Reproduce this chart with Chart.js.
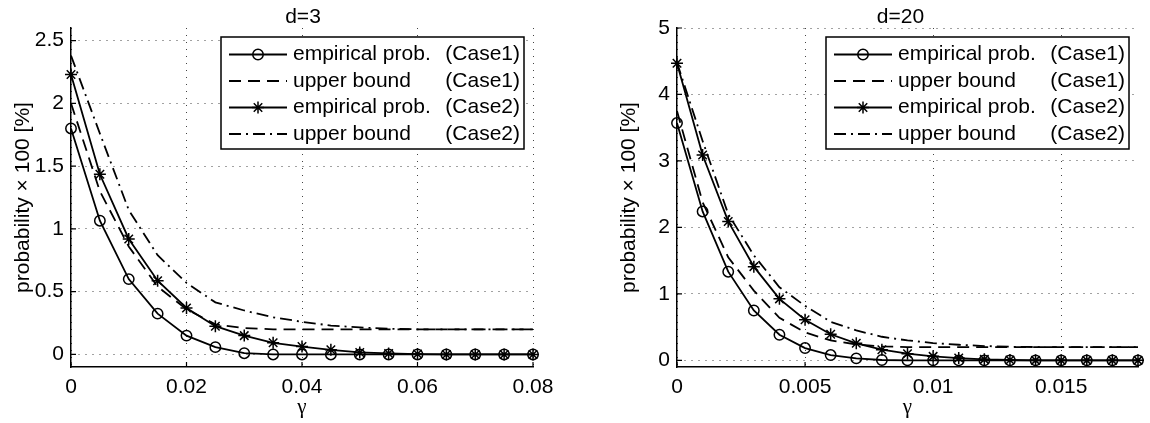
<!DOCTYPE html>
<html>
<head>
<meta charset="utf-8">
<script src="https://cdn.jsdelivr.net/npm/chart.js@4.4.0/dist/chart.umd.min.js"></script>
<style>
  html, body { margin: 0; padding: 0; background: #fff; }
  #wrap { position: relative; width: 1150px; height: 423px; }
  .panel { position: absolute; top: 0; width: 575px; height: 423px; }
</style>
</head>
<body>
<div id="wrap">
  <div class="panel" style="left:0"><canvas id="chartD3" width="575" height="423"></canvas></div>
  <div class="panel" style="left:575px"><canvas id="chartD20" width="575" height="423"></canvas></div>
</div>
<script>
// d=3 panel
const gammaD3 = [0, 0.005, 0.01, 0.015, 0.02, 0.025, 0.03, 0.035, 0.04, 0.045, 0.05, 0.055, 0.06, 0.065, 0.07, 0.075, 0.08]
const empCase1D3 = [1.8, 1.065, 0.6, 0.325, 0.15, 0.058, 0.01, 0, 0, 0, 0, 0, 0, 0, 0, 0, 0]
const boundCase1D3 = [2.0, 1.3, 0.86, 0.54, 0.36, 0.24, 0.21, 0.2, 0.2, 0.2, 0.2, 0.2, 0.2, 0.2, 0.2, 0.2, 0.2]
const empCase2D3 = [2.23, 1.435, 0.92, 0.587, 0.37, 0.225, 0.15, 0.093, 0.063, 0.037, 0.016, 0.008, 0.003, 0, 0, 0, 0]
const boundCase2D3 = [2.38, 1.76, 1.15, 0.79, 0.57, 0.415, 0.35, 0.296, 0.26, 0.23, 0.215, 0.205, 0.2, 0.2, 0.2, 0.2, 0.2]
const xTicksD3 = [0, 0.02, 0.04, 0.06, 0.08]
const xTickLabelsD3 = ['0', '0.02', '0.04', '0.06', '0.08']
const yTicksD3 = [0, 0.5, 1, 1.5, 2, 2.5]
const yTickLabelsD3 = ['0', '0.5', '1', '1.5', '2', '2.5']

// d=20 panel
const gammaD20 = [0, 0.001, 0.002, 0.003, 0.004, 0.005, 0.006, 0.007, 0.008, 0.009, 0.01, 0.011, 0.012, 0.013, 0.014, 0.015, 0.016, 0.017, 0.018]
const empCase1D20 = [3.57, 2.24, 1.334, 0.75, 0.385, 0.185, 0.08, 0.03, 0.005, 0, 0, 0, 0, 0, 0, 0, 0, 0, 0]
const boundCase1D20 = [3.75, 2.38, 1.55, 1.05, 0.64, 0.42, 0.3, 0.24, 0.21, 0.2, 0.2, 0.2, 0.2, 0.2, 0.2, 0.2, 0.2, 0.2, 0.2]
const empCase2D20 = [4.47, 3.09, 2.09, 1.41, 0.925, 0.61, 0.393, 0.256, 0.16, 0.1, 0.06, 0.035, 0.015, 0.005, 0, 0, 0, 0, 0]
const boundCase2D20 = [4.48, 3.3, 2.2, 1.58, 1.1, 0.82, 0.58, 0.45, 0.355, 0.3, 0.26, 0.235, 0.215, 0.205, 0.2, 0.2, 0.2, 0.2, 0.2]
const xTicksD20 = [0, 0.005, 0.01, 0.015]
const xTickLabelsD20 = ['0', '0.005', '0.01', '0.015']
const yTicksD20 = [0, 1, 2, 3, 4, 5]
const yTickLabelsD20 = ['0', '1', '2', '3', '4', '5']

const FONT_FAMILY = "'Liberation Sans', Arial, Helvetica, sans-serif"
const FONT_SIZE = 21
const LINE_W = 1.8

Chart.defaults.font.family = FONT_FAMILY
Chart.defaults.font.size = FONT_SIZE
Chart.defaults.color = '#000'

function seriesPoints(xs, ys) {
  return xs.map((x, i) => ({ x, y: ys[i] }))
}

/**
 * Four series per panel, in the order MATLAB plotted them
 */
function buildDatasets(xs, emp1, bound1, emp2, bound2) {
  return [
    { label: 'empirical prob.', caseTag: '(Case1)', data: seriesPoints(xs, emp1), borderDash: [], pointStyle: 'circle', pointRadius: 5.2, order: 3 },
    { label: 'upper bound', caseTag: '(Case1)', data: seriesPoints(xs, bound1), borderDash: [12, 7], pointRadius: 0, order: 2 },
    { label: 'empirical prob.', caseTag: '(Case2)', data: seriesPoints(xs, emp2), borderDash: [], pointStyle: 'star', pointRadius: 6, order: 1 },
    { label: 'upper bound', caseTag: '(Case2)', data: seriesPoints(xs, bound2), borderDash: [12, 5, 2, 5], pointRadius: 0, order: 0 },
  ].map(ds => ({
    borderColor: '#000',
    pointBorderColor: '#000',
    pointBackgroundColor: 'rgba(0,0,0,0)',
    borderWidth: LINE_W,
    pointBorderWidth: 1.5,
    pointHoverRadius: 0,
    tension: 0,
    fill: false,
    clip: false,
    ...ds,
  }))
}

// titles, inward ticks and the boxed legend
const panelDecor = {
  id: 'panelDecor',
  afterDraw(chart, args, opts) {
    const { ctx, chartArea: area } = chart
    const xs = chart.scales.x
    const ys = chart.scales.y
    ctx.save()
    ctx.setLineDash([])
    ctx.strokeStyle = '#000'
    ctx.lineWidth = 1.2
    ctx.beginPath()
    opts.xTicks.forEach(v => {
      const px = xs.getPixelForValue(v)
      ctx.moveTo(px, area.bottom)
      ctx.lineTo(px, area.bottom - 5)
    })
    opts.yTicks.forEach(v => {
      const py = ys.getPixelForValue(v)
      ctx.moveTo(area.left, py)
      ctx.lineTo(area.left + 5, py)
    })
    ctx.stroke()

    ctx.fillStyle = '#000'
    ctx.textAlign = 'center'
    ctx.textBaseline = 'middle'
    ctx.font = FONT_SIZE + 'px ' + FONT_FAMILY
    ctx.fillText(opts.title, (area.left + area.right) / 2 + opts.titleShift, area.top - 11)
    ctx.save()
    ctx.translate(area.left - 48, (area.top + area.bottom) / 2)
    ctx.rotate(-Math.PI / 2)
    ctx.fillText('probability \u00d7 100 [%]', 0, 0)
    ctx.restore()
    ctx.font = FONT_SIZE + "px 'Liberation Serif', 'Times New Roman', serif"
    ctx.fillText('\u03b3', (area.left + area.right) / 2, area.bottom + 40)

    // legend
    const w = 303, h = 112
    const left = area.right - 9 - w
    const top = area.top + 9
    ctx.fillStyle = '#fff'
    ctx.fillRect(left, top, w, h)
    ctx.lineWidth = 1.5
    ctx.strokeRect(left, top, w, h)
    ctx.font = FONT_SIZE + 'px ' + FONT_FAMILY
    chart.data.datasets.forEach((ds, i) => {
      const cy = top + 17.5 + i * 26.5
      ctx.save()
      ctx.lineWidth = ds.borderWidth
      ctx.setLineDash(ds.borderDash)
      ctx.beginPath()
      ctx.moveTo(left + 8, cy)
      ctx.lineTo(left + 66, cy)
      ctx.stroke()
      ctx.restore()
      if (ds.pointRadius > 0) {
        ctx.strokeStyle = '#000'
        ctx.fillStyle = 'rgba(0,0,0,0)'
        Chart.helpers.drawPoint(ctx, { pointStyle: ds.pointStyle, radius: ds.pointRadius, borderWidth: ds.pointBorderWidth, rotation: 0 }, left + 37, cy)
      }
      ctx.fillStyle = '#000'
      ctx.textAlign = 'left'
      ctx.fillText(ds.label, left + 72, cy)
      ctx.textAlign = 'right'
      ctx.fillText(ds.caseTag, left + w - 4, cy)
    })
    ctx.restore()
  },
}

function makeChart(canvasId, cfg) {
  return new Chart(document.getElementById(canvasId), {
    type: 'line',
    data: { datasets: cfg.datasets },
    plugins: [panelDecor],
    options: {
      responsive: false,
      devicePixelRatio: 1,
      animation: false,
      events: [],
      layout: { padding: { top: 28, right: cfg.padRight, left: 0, bottom: 0 } },
      plugins: {
        legend: { display: false },
        tooltip: { enabled: false },
        panelDecor: { title: cfg.title, titleShift: cfg.titleShift, xTicks: cfg.xTicks, yTicks: cfg.yTicks },
      },
      scales: {
        x: {
          type: 'linear',
          min: 0,
          max: cfg.xMax,
          afterBuildTicks: s => { s.ticks = cfg.xTicks.map(v => ({ value: v })) },
          afterFit: s => { s.height = 56 },
          grid: { color: '#444', lineWidth: 1, drawTicks: false },
          border: { display: true, color: '#000', width: 1.5, dash: [1, 6] },
          ticks: { autoSkip: false, maxRotation: 0, padding: 8, callback: (v, i) => cfg.xTickLabels[i] },
        },
        y: {
          type: 'linear',
          min: -0.1,
          max: cfg.yMax,
          afterBuildTicks: s => { s.ticks = cfg.yTicks.map(v => ({ value: v })) },
          afterFit: s => { s.width = cfg.yWidth },
          grid: { color: '#444', lineWidth: 1, drawTicks: false },
          border: { display: true, color: '#000', width: 1.5, dash: [1, 6] },
          ticks: { autoSkip: false, padding: 7, callback: (v, i) => cfg.yTickLabels[i] },
        },
      },
    },
  })
}

makeChart('chartD3', {
  title: 'd=3',
  titleShift: 1,
  datasets: buildDatasets(gammaD3, empCase1D3, boundCase1D3, empCase2D3, boundCase2D3),
  xMax: 0.08, yMax: 2.6,
  xTicks: xTicksD3, xTickLabels: xTickLabelsD3,
  yTicks: yTicksD3, yTickLabels: yTickLabelsD3,
  yWidth: 71, padRight: 42,
})

makeChart('chartD20', {
  title: 'd=20',
  titleShift: -7,
  datasets: buildDatasets(gammaD20, empCase1D20, boundCase1D20, empCase2D20, boundCase2D20),
  xMax: 0.018, yMax: 5,
  xTicks: xTicksD20, xTickLabels: xTickLabelsD20,
  yTicks: yTicksD20, yTickLabels: yTickLabelsD20,
  yWidth: 102, padRight: 12,
})
</script>
</body>
</html>
